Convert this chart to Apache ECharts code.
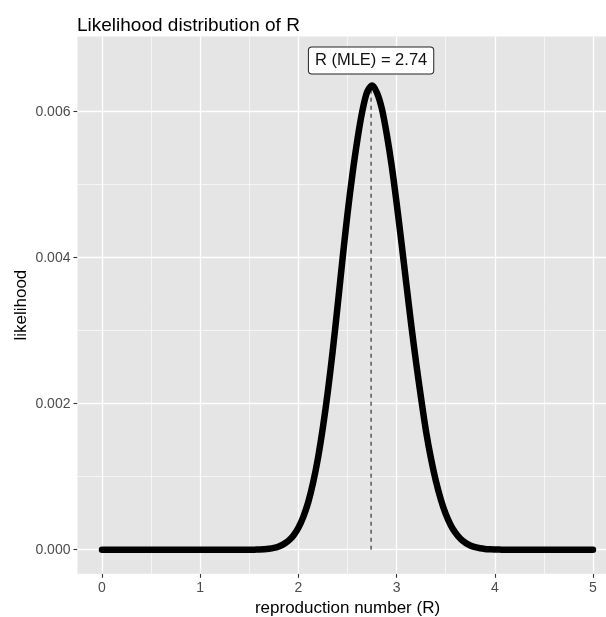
<!DOCTYPE html>
<html><head><meta charset="utf-8">
<script src="https://cdn.jsdelivr.net/npm/echarts@6/dist/echarts.min.js"></script>
<style>html,body{margin:0;padding:0;background:#fff}#c{width:606px;height:617px}</style>
</head><body><div id="c"></div>
<script>
const rValues = [0, 0.5, 1.0, 1.5, 1.55, 1.6, 1.65, 1.7, 1.75, 1.8, 1.85, 1.9, 1.95, 2.0, 2.05, 2.1, 2.15, 2.2, 2.25, 2.3, 2.35, 2.4, 2.45, 2.5, 2.55, 2.6, 2.65, 2.7, 2.75, 2.8, 2.85, 2.9, 2.95, 3.0, 3.05, 3.1, 3.15, 3.2, 3.25, 3.3, 3.35, 3.4, 3.45, 3.5, 3.55, 3.6, 3.65, 3.7, 3.75, 3.8, 3.85, 3.9, 3.95, 4.0, 4.05, 4.1, 4.5, 5.0];
const likelihood = [0, 0, 0, 0, 0.000001, 0.000003, 0.000006, 0.000012, 0.000024, 0.000045, 0.000076, 0.000124, 0.000195, 0.00030, 0.00045, 0.00065, 0.00092, 0.00126, 0.00168, 0.00217, 0.00273, 0.00335, 0.00399, 0.00460, 0.00514, 0.00561, 0.00600, 0.00627, 0.00636, 0.00626, 0.00604, 0.00569, 0.00526, 0.00475, 0.00420, 0.00363, 0.00307, 0.00255, 0.00207, 0.00162, 0.00125, 0.00094, 0.00069, 0.00049, 0.00034, 0.00023, 0.00015, 0.000095, 0.000058, 0.000034, 0.000019, 0.00001, 0.0000055, 0.000003, 0.0000015, 0, 0, 0];
const xTicks = [0, 1, 2, 3, 4, 5];
const xMinor = [0.5, 1.5, 2.5, 3.5, 4.5];
const yTicks = [0, 0.002, 0.004, 0.006];
const yMinor = [0.001, 0.003, 0.005];
const xRange = [-0.25, 5.25];
const yRange = [-0.00033, 0.00703];
const mleR = 2.74;
const mleLikelihood = 0.00636;
const labelY = 0.0067;
const labelText = 'R (MLE) = 2.74';
const titleText = 'Likelihood distribution of R';
const xName = 'reproduction number (R)';
const yName = 'likelihood';

const FONT = '"Liberation Sans", Arial, sans-serif';
const curve = rValues.map((r, i) => [r, likelihood[i]]);

const gridLines = [];
xTicks.forEach(v => gridLines.push({xAxis: v, lineStyle: {width: 1.3}}));
xMinor.forEach(v => gridLines.push({xAxis: v, lineStyle: {width: 0.6}}));
yTicks.forEach(v => gridLines.push({yAxis: v, lineStyle: {width: 1.3}}));
yMinor.forEach(v => gridLines.push({yAxis: v, lineStyle: {width: 0.6}}));

const chart = echarts.init(document.getElementById('c'), null, {renderer: 'canvas'});
chart.setOption({
  animation: false,
  backgroundColor: '#ffffff',
  title: {
    text: titleText, left: 77, top: 16, padding: 0,
    textStyle: {fontFamily: FONT, fontSize: 19, fontWeight: 'normal', color: '#000'}
  },
  grid: {
    left: 77.45, top: 36.5, width: 540.1, height: 537.3,
    show: true, backgroundColor: '#e5e5e5', borderWidth: 0, containLabel: false,
    outerBoundsMode: 'none'
  },
  xAxis: {
    type: 'value', min: xRange[0], max: xRange[1],
    name: xName, nameLocation: 'middle', nameGap: 26, nameMoveOverlap: false,
    nameTextStyle: {fontFamily: FONT, fontSize: 17, color: '#000'},
    axisLine: {show: false, onZero: false},
    axisTick: {show: true, length: 4, customValues: xTicks, lineStyle: {color: '#333', width: 1.1}},
    axisLabel: {customValues: xTicks, margin: 7, fontFamily: FONT, fontSize: 14, color: '#4d4d4d'},
    splitLine: {show: false}
  },
  yAxis: {
    type: 'value', min: yRange[0], max: yRange[1],
    name: yName, nameLocation: 'middle', nameGap: 48, nameMoveOverlap: false,
    nameTextStyle: {fontFamily: FONT, fontSize: 17, color: '#000'},
    axisLine: {show: false, onZero: false},
    axisTick: {show: true, length: 4, customValues: yTicks, lineStyle: {color: '#333', width: 1.1}},
    axisLabel: {customValues: yTicks, margin: 7, fontFamily: FONT, fontSize: 14, color: '#4d4d4d',
      formatter: v => v.toFixed(3)},
    splitLine: {show: false}
  },
  series: [
    {
      type: 'line', z: 3, data: [[mleR, 0], [mleR, mleLikelihood]], symbol: 'none', silent: true,
      lineStyle: {color: '#333333', width: 1.2, type: [4, 4]}
    },
    {
      type: 'line', z: 4, data: curve, symbol: 'none', silent: true, smooth: 0.3,
      lineStyle: {color: '#000000', width: 6.5, cap: 'round', join: 'round'},
      markLine: {
        silent: true, z: 1, precision: 8, symbol: ['none', 'none'], label: {show: false},
        emphasis: {disabled: true},
        lineStyle: {color: '#ffffff', type: 'solid'},
        data: gridLines
      }
    },
    {
      type: 'scatter', z: 6, data: [[mleR, labelY]], symbolSize: 0, silent: true,
      itemStyle: {color: '#000', opacity: 1},
      label: {
        show: true, position: 'inside', formatter: labelText,
        fontFamily: FONT, fontSize: 16.5, color: '#111111', lineHeight: 20,
        backgroundColor: '#ffffff', borderColor: '#222222', borderWidth: 1, borderRadius: 3,
        padding: [3, 6, 3, 6]
      }
    }
  ]
});
</script></body></html>
